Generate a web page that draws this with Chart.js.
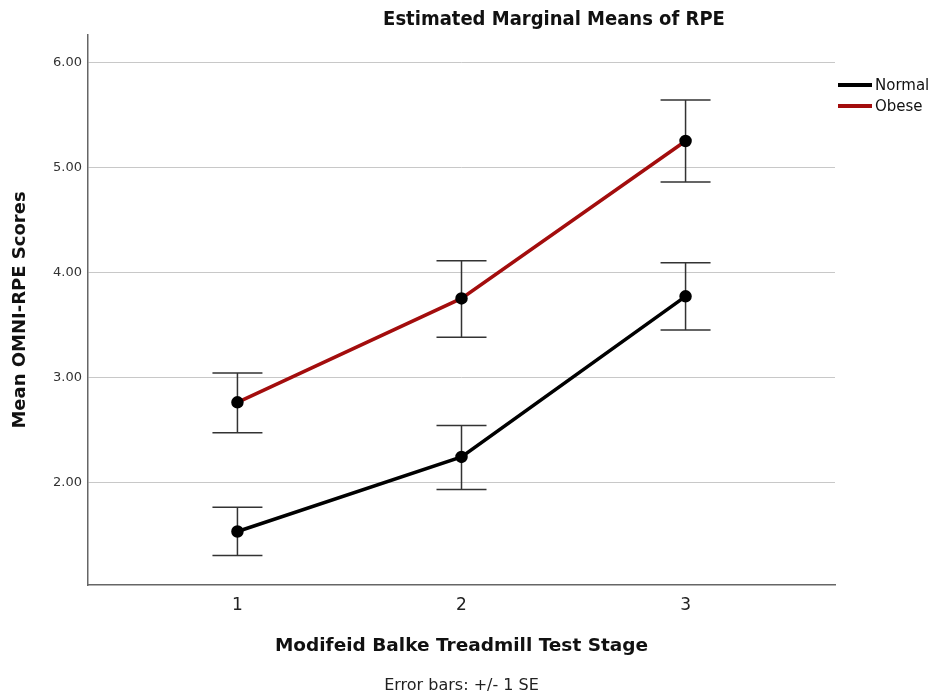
<!DOCTYPE html>
<html>
<head>
<meta charset="utf-8">
<script src="https://cdn.jsdelivr.net/npm/chart.js@4.4.0/dist/chart.umd.min.js"></script>
<style>
  html, body { margin: 0; padding: 0; background: #fff; }
  #wrap { width: 938px; height: 698px; position: relative; }
</style>
</head>
<body>
<div id="wrap"><canvas id="myChart" width="938" height="698"></canvas></div>
<script>
// values
const stages = [1, 2, 3];
const xTicks = [1, 2, 3];
const yTicks = [2, 3, 4, 5, 6];
const normalMean = [1.53, 2.24, 3.77];
const normalUpper = [1.76, 2.54, 4.09];
const normalLower = [1.30, 1.93, 3.45];
const obeseMean = [2.76, 3.75, 5.25];
const obeseUpper = [3.04, 4.11, 5.64];
const obeseLower = [2.47, 3.38, 4.86];

const chartTitle = 'Estimated Marginal Means of RPE';
const footNote = 'Error bars: +/- 1 SE';

// error bars + title + footnote + legend
const extras = {
    id: 'extras',
    beforeDatasetsDraw(chart) {
        const ctx = chart.ctx;
        const xs = chart.scales.x, ys = chart.scales.y;
        ctx.save();
        ctx.strokeStyle = '#333';
        ctx.lineWidth = 1.5;
        chart.data.datasets.forEach(ds => {
            ds.data.forEach((p, i) => {
                const x = xs.getPixelForValue(p.x);
                const yt = ys.getPixelForValue(ds.upper[i]);
                const yb = ys.getPixelForValue(ds.lower[i]);
                ctx.beginPath();
                ctx.moveTo(x, yt); ctx.lineTo(x, yb);
                ctx.moveTo(x - 25, yt); ctx.lineTo(x + 25, yt);
                ctx.moveTo(x - 25, yb); ctx.lineTo(x + 25, yb);
                ctx.stroke();
            });
        });
        ctx.restore();
    },
    afterDraw(chart) {
        const ctx = chart.ctx;
        const ca = chart.chartArea;
        ctx.save();
        ctx.fillStyle = '#111';
        ctx.textAlign = 'center';
        ctx.textBaseline = 'middle';
        ctx.font = 'bold 20px "DejaVu Sans Condensed"';
        ctx.fillText(chartTitle, 554, 20);
        ctx.font = '16px "DejaVu Sans"';
        ctx.fillStyle = '#222';
        ctx.fillText(footNote, (ca.left + ca.right) / 2, 686);
        // legend
        ctx.textAlign = 'left';
        ctx.font = '15px "DejaVu Sans"';
        chart.data.datasets.forEach((ds, i) => {
            const y = 85 + i * 21;
            ctx.strokeStyle = ds.borderColor;
            ctx.lineWidth = 4;
            ctx.beginPath();
            ctx.moveTo(838, y); ctx.lineTo(872, y);
            ctx.stroke();
            ctx.fillStyle = '#111';
            ctx.fillText(ds.label, 875, y + 1);
        });
        ctx.restore();
    }
};

const ctx = document.getElementById('myChart').getContext('2d');
const chart = new Chart(ctx, {
    type: 'line',
    data: {
        datasets: [{
            label: 'Normal',
            data: stages.map((s, i) => ({ x: s, y: normalMean[i] })),
            upper: normalUpper,
            lower: normalLower,
            borderColor: '#000000',
            borderWidth: 3.5,
            pointBackgroundColor: '#000',
            pointBorderColor: '#000',
            pointRadius: 4.5
        }, {
            label: 'Obese',
            data: stages.map((s, i) => ({ x: s, y: obeseMean[i] })),
            upper: obeseUpper,
            lower: obeseLower,
            borderColor: '#a30d0d',
            borderWidth: 3.5,
            pointBackgroundColor: '#000',
            pointBorderColor: '#000',
            pointRadius: 4.5
        }]
    },
    options: {
        responsive: false,
        animation: false,
        layout: { padding: { top: 35, right: 103, bottom: 41, left: 0 } },
        plugins: {
            legend: { display: false },
            tooltip: { enabled: false }
        },
        scales: {
            x: {
                type: 'linear',
                min: 0.333,
                max: 3.667,
                afterBuildTicks: axis => { axis.ticks = xTicks.map(v => ({ value: v })); },
                afterFit: axis => { axis.height = 72; },
                grid: { display: false, drawTicks: false },
                border: { display: true, color: '#666', width: 1.5 },
                ticks: {
                    padding: 10,
                    color: '#222',
                    font: { family: 'DejaVu Sans', size: 17 },
                    callback: v => String(v)
                },
                title: {
                    display: true,
                    text: 'Modifeid Balke Treadmill Test Stage',
                    color: '#111',
                    font: { family: 'DejaVu Sans', size: 18.5, weight: 'bold' },
                    padding: { top: 3, bottom: 0 }
                }
            },
            y: {
                min: 1.02,
                max: 6.26,
                afterBuildTicks: axis => { axis.ticks = yTicks.map(v => ({ value: v })); },
                afterFit: axis => { axis.width = 88; },
                grid: { color: '#c8c8c8', lineWidth: 1, drawTicks: false },
                border: { display: true, color: '#666', width: 1.5 },
                ticks: {
                    padding: 6,
                    color: '#333',
                    font: { family: 'DejaVu Sans', size: 13 },
                    callback: v => v.toFixed(2)
                },
                title: {
                    display: true,
                    text: 'Mean OMNI-RPE Scores',
                    color: '#111',
                    font: { family: 'DejaVu Sans', size: 18, weight: 'bold' },
                    padding: { top: 10, bottom: 0 }
                }
            }
        }
    },
    plugins: [extras]
});
</script>
</body>
</html>
